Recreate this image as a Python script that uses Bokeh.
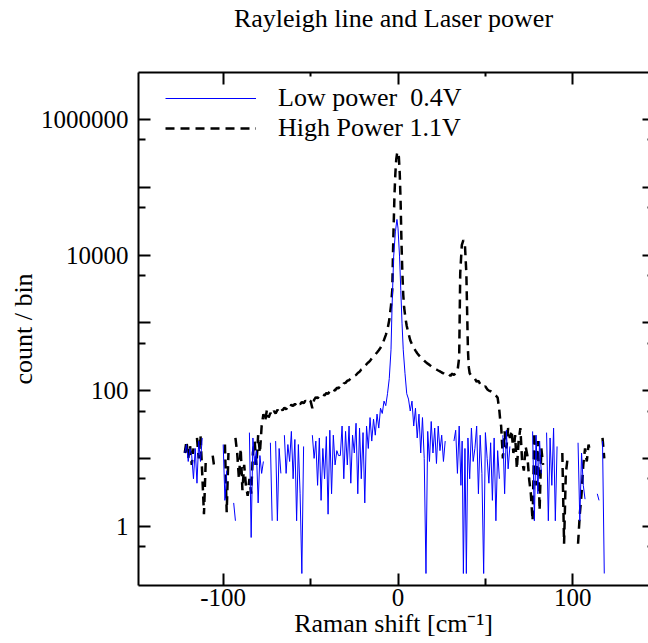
from bokeh.plotting import figure
from bokeh.models import (FixedTicker, LogAxis, LinearAxis, CustomJSTickFormatter,
                          Legend, LegendItem, Range1d)
from bokeh.embed import file_html
from bokeh.resources import INLINE

nan = float("nan")

# ---------------- data ----------------
# High power 1.1V  (black dashed)
hp_x = [-122, -121, -120, -119, -118, -117, -116, -115, -114, -113, -112, -111, -110, -109,
        -106, -105, -104, -99, -98, -97, -96, -93, -92, -91, -90, -89, -88, -87, -86, -85,
        -84, -83, -82, -81, -80, -79, -78,
        -77, -76, -75, -74, -73, -72, -71, -70, -69, -68, -67, -66, -65, -64, -63, -62,
        -61, -60, -59, -58, -57, -56, -55, -54, -53, -52, -51, -50, -49, -48, -47, -46,
        -45, -44, -43, -42, -41, -40, -39, -38, -37, -36, -35, -34, -33, -32, -31, -30,
        -29, -28, -27, -26, -25, -24, -23, -22, -21, -20, -19, -18, -17, -16, -15, -14,
        -13, -12, -11, -10, -9, -8, -7, -6, -5, -4, -3.3, -2.7, -2, -1.5, -1, -0.5, 0,
        0.5, 1, 1.5, 2, 2.5, 3, 3.5, 4.2, 5, 6, 7, 8, 9, 10, 11, 12, 13, 14, 15, 16, 17,
        18, 19, 20, 21, 22, 23, 24, 25, 26, 27, 28, 29, 30, 31, 32, 33, 34, 35, 35.6,
        36.5, 37.4, 38.3, 39.1, 40, 40.5, 41, 42, 43, 44, 45, 46, 47, 48, 49, 50, 51, 52,
        53, 54, 55, 56, 57, 58, 58.5,
        59, 60, 61, 62, 63, 64, 65, 66, 67, 68, 69, 70, 71, 72, 73, 74, 75, 76, 77, 78,
        79, 80, 81, 82, 83, 84, 94, 95, 96, 97, 98, 103, 104, 105, 106, 107, 108, 109,
        110, 111, 117, 118]
hp_y = [12, 18, 10, 16, 8, 14, nan, 20, 10, 22, 6, 1.5, 9, nan,
        11, 7, nan, 16, 1.6, 12, nan, 20, 12, 5, 14, 3.4, 8, 4, 2.8, 5,
        3, 12, 18, 8, 22, 12, 30,
        45, 35, 52, 40, 47, 43, 50, 46, 52, 49, 55, 51, 56, 53, 58, 55,
        62, 59, 64, 60, 66, 63, 68, 65, 71, 68, 74, 70, 55, 73, 80, 77,
        84, 82, 88, 85, 92, 90, 98, 95, 104, 100, 110, 108, 118, 115, 128, 130,
        140, 142, 152, 155, 165, 170, 182, 190, 205, 212, 232, 245, 260, 275, 300, 315,
        340, 365, 395, 430, 480, 560, 660, 800, 1100, 1800, 3000, 16600, 80000, 162000, 260000, 320000, 334000,
        280000, 160000, 60000, 15000, 5400, 2600, 1700, 1200, 900, 700, 553, 480, 430, 390, 356, 330, 310, 290, 275, 262, 250,
        240, 228, 220, 212, 205, 198, 192, 185, 180, 172, 168, 175, 165, 178, 170, 182, 190, 310, 5400,
        14000, 16600, 14000, 5400, 400, 220, 180, 165, 157, 150, 135, 140, 125, 118, 112, 115, 105, 100,
        98, 95, 88, 84, 79, 50, 36,
        30, 10, 25, 14, 28, 20, 26, 12, 22, 7, 18, 28, 9, 6.6, 15, 11, 5, 3, 1.2, 24,
        4, 18, 1.7, 14, 8, nan, 12, 0.55, 6, 10, nan, 0.55, 1.5, 3, 8, 14, 9, 16,
        12, nan, 20, 10]

# Low power 0.4V  (blue)
lp_x = [-122, -121, -120, -119, -118, -117, -116, -115, -114, -113, -112, -111,
        -100, -99, -98, -97, -94, -93, -92,
        -85, -84, -83, -82, -81, -80, -79, -78, -77, -76, -73, -72, -71, -70, -69, -68,
        -67, -66, -65, -64, -63, -62, -61, -60, -59, -58, -57, -56, -55, -54, -53,
        -49, -48, -47, -46, -45, -44, -43, -42, -41, -40, -39, -38, -37, -36, -35, -34,
        -33, -32, -31, -30, -29, -28, -27, -26, -25, -24, -23, -22, -21, -20, -19, -18,
        -17, -16, -15, -14, -13, -12, -11, -10, -9, -8, -7, -6, -5, -4, -3.4, -2.5,
        -1.5, -0.6, 0, 0.9, 1.6, 2.3, 3, 4, 5, 6, 7, 8, 9, 10, 11, 12, 13, 14, 15, 16,
        17, 18, 19, 20, 21, 22, 23, 24, 25, 26, 27, 28,
        32, 33, 34, 35, 36, 36.7, 37.4, 38.3, 39.1, 40, 41, 42, 43, 44, 45, 46, 47, 48,
        49, 50, 51, 52, 53, 54, 55, 56, 57, 58, 59, 60, 61, 62, 63, 64, 65,
        77, 78, 79, 80, 81, 82, 83, 85, 86, 87, 88, 89, 90, 91, 92,
        103, 104, 105, 106, 107, 108, 114, 115, 116, 117, 118]
lp_y = [12, 16, 9, 14, 11, 5, 14, 4.3, 18, 9, 20, nan,
        16, 2.4, 6.6, nan, 2.2, 1.2, nan,
        24, 0.68, 20, 8, 13, 2.2, 11, 6, 9, nan, 17, 1.2, nan, 18, 1.2, 14,
        6, nan, 22, 6, 16, 9, 25, 5, 19, 1.2, 16, 3, 0.2, 15, nan,
        22, 10, 18, 4, 20, 2.4, 14, 5, 21, 1.5, 26, 3, 22, 8, 13, 11,
        11, 30, 5, 25, 8, 30, 4.3, 22, 12, 33, 3, 28, 5, 24, 2.2, 30,
        14, 40, 18, 38, 22, 45, 28, 55, 46, 70, 60, 90, 150, 400, 1720, 9400,
        22000, 33600, 25000, 9400, 3000, 990, 400, 180, 90, 75, 50, 70, 30, 55, 20, 45, 12, 40, 10, 0.2,
        25, 9, 35, 12, 28, 8.4, 30, 13, 22, 9, 18, nan,
        18, 26, 6, 30, 4, 18, 0.2, 14, 0.2, 20, 5, 28, 9, 14, 30, 3, 22, 6,
        0.2, 24, 10, 4.3, 17, 2.4, 20, 1.2, 13, 5, nan, 22, 3, 26, 7, 15, nan,
        25, 1.2, 22, 3, 18, 6, nan, 24, 1.2, 20, 4, 28, 1.2, 15, nan,
        17, 1.2, 12, 4, 2.5, nan, 3, 2.4, nan, 18, 0.2]

x_ticks = [-100, 0, 100]
x_minor_ticks = [-150, -50, 50, 150]
y_ticks = [0.1, 1, 10, 100, 1000, 10000, 100000, 1000000]
y_minor_ticks = [0.5, 5, 50, 500, 5000, 50000, 500000]

title_text = "Rayleigh line and Laser power"
x_label = "Raman shift [cm\u207b\u00b9]"
y_label = "count / bin"
lp_label = "Low power\u00a0 0.4V"
hp_label = "High Power 1.1V"

FONT = "Liberation Serif"
FS = "26px"
TFS = "25px"

p = figure(width=648, height=643, x_range=Range1d(-148.45, 143.3),
           y_range=Range1d(0.133, 4.95e6), y_axis_type="log",
           output_backend="svg", toolbar_location=None,
           min_border_left=138, min_border_right=0, min_border_top=72,
           min_border_bottom=58)
p.outline_line_color = None
p.xgrid.visible = False
p.ygrid.visible = False
p.background_fill_color = "white"
p.border_fill_color = "white"

y_fmt_code = """
const e = Math.round(Math.log10(tick));
if (e < 0 || e % 2 !== 0) { return ""; }
return Math.round(tick).toString();
"""
x_fmt_code = "return tick.toFixed(0);"
blank_code = "return '';"


def style_axis(ax, tick_in, minor_in, show_line=True):
    ax.axis_line_width = 2
    ax.axis_line_color = "black" if show_line else None
    ax.major_tick_line_width = 2
    ax.minor_tick_line_width = 2
    ax.major_tick_in = tick_in
    ax.major_tick_out = 0
    ax.minor_tick_in = minor_in
    ax.minor_tick_out = 0
    ax.major_label_text_font = FONT
    ax.major_label_text_font_size = TFS
    ax.major_label_text_color = "black"
    ax.axis_label_text_font = FONT
    ax.axis_label_text_font_size = FS
    ax.axis_label_text_font_style = "normal"
    ax.axis_label_text_color = "black"


xa = p.xaxis[0]
xa.ticker = FixedTicker(ticks=x_ticks, minor_ticks=x_minor_ticks)
xa.formatter = CustomJSTickFormatter(code=x_fmt_code)
style_axis(xa, 12, 7)
xa.axis_label = x_label
xa.major_label_standoff = 3
xa.axis_label_standoff = 0

ya = p.yaxis[0]
ya.ticker = FixedTicker(ticks=y_ticks, minor_ticks=y_minor_ticks)
ya.formatter = CustomJSTickFormatter(code=y_fmt_code)
style_axis(ya, 12, 7)
ya.axis_label = y_label
ya.major_label_standoff = 10
ya.axis_label_standoff = 0

# top axis: inward ticks only; its label carries the chart title
top = LinearAxis(ticker=FixedTicker(ticks=x_ticks, minor_ticks=x_minor_ticks),
                 formatter=CustomJSTickFormatter(code=blank_code))
style_axis(top, 12, 4)
top.major_label_text_font_size = "1px"
top.major_label_standoff = 0
top.axis_label = title_text
top.axis_label_standoff = 40
p.add_layout(top, "above")

right = LogAxis(ticker=FixedTicker(ticks=y_ticks, minor_ticks=y_minor_ticks),
                formatter=CustomJSTickFormatter(code=blank_code))
style_axis(right, 6, 1, show_line=False)
right.major_label_text_font_size = "1px"
right.major_label_standoff = 0
p.add_layout(right, "right")

r_hp = p.line(hp_x, hp_y, line_color="black", line_width=2.5, line_dash="9 6")
r_lp = p.line(lp_x, lp_y, line_color="#0000ff", line_width=1)

legend = Legend(items=[LegendItem(label=lp_label, renderers=[r_lp]),
                       LegendItem(label=hp_label, renderers=[r_hp])],
                location=(27, 442), orientation="vertical",
                border_line_color=None, background_fill_alpha=0,
                label_text_font=FONT, label_text_font_size=FS,
                label_text_color="black",
                glyph_width=91, glyph_height=30, label_height=30,
                label_standoff=22, spacing=0, padding=0, margin=0)
p.add_layout(legend)

open("out.html", "w").write(file_html(p, INLINE))
